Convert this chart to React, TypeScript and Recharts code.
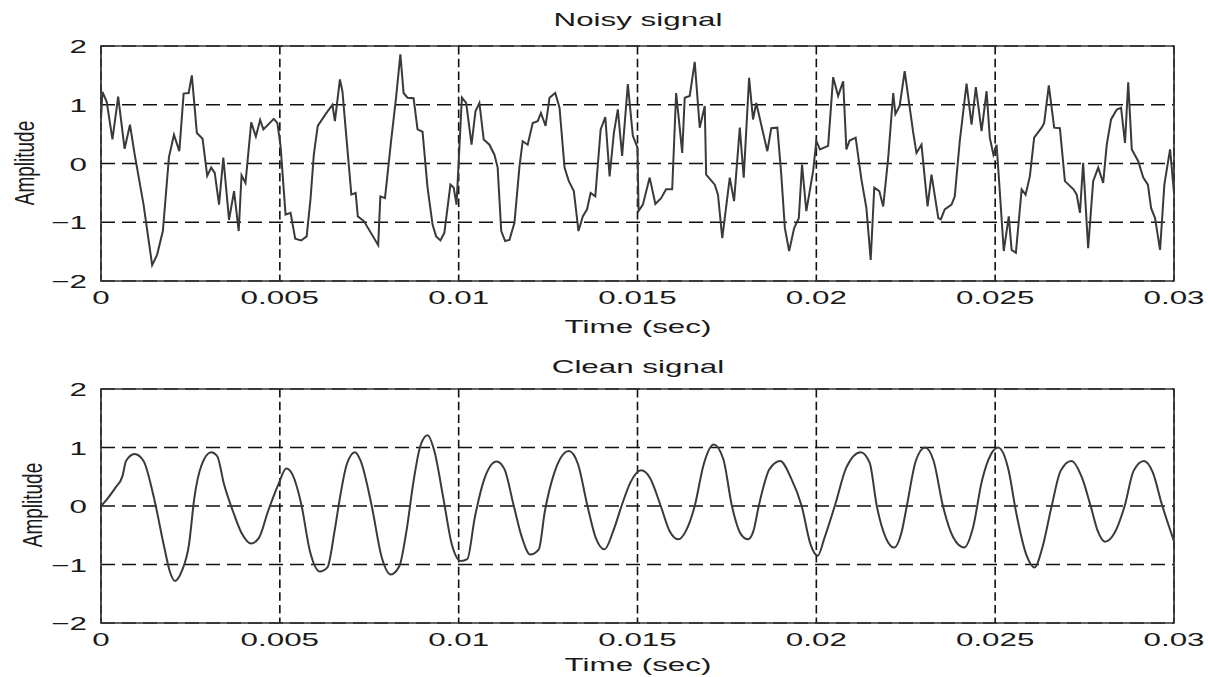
import { LineChart, Line, XAxis, YAxis, CartesianGrid, ReferenceArea } from 'recharts';

// time in ms, amplitude
const noisySignal: [number, number][] = [
  [0, 0.76], [0.04, 1.22], [0.16, 1.05], [0.32, 0.41], [0.48, 1.14], [0.66, 0.25], [0.81, 0.66], [0.94, 0.16],
  [1.19, -0.7], [1.43, -1.73], [1.57, -1.55], [1.73, -1.15], [1.9, 0.11], [2.04, 0.49], [2.19, 0.21], [2.31, 1.19],
  [2.45, 1.2], [2.54, 1.5], [2.68, 0.52], [2.84, 0.42], [2.97, -0.21], [3.08, -0.07], [3.18, -0.16], [3.3, -0.7],
  [3.42, 0.1], [3.58, -0.96], [3.72, -0.47], [3.85, -1.15], [3.93, -0.2], [4.04, -0.33], [4.2, 0.7], [4.33, 0.46],
  [4.45, 0.74], [4.54, 0.58], [4.83, 0.76], [4.93, 0.69], [5.02, 0.3], [5.16, -0.87], [5.3, -0.84], [5.43, -1.28],
  [5.6, -1.31], [5.75, -1.24], [5.86, -0.59], [5.95, 0.15], [6.06, 0.64], [6.28, 0.84], [6.47, 1.0], [6.54, 0.72],
  [6.68, 1.43], [6.75, 1.23], [6.87, 0.38], [7.0, -0.53], [7.12, -0.5], [7.18, -0.9], [7.35, -0.98], [7.75, -1.39],
  [7.81, -0.56], [7.94, -0.59], [8.11, 0.38], [8.25, 1.12], [8.37, 1.86], [8.46, 1.2], [8.57, 1.12], [8.74, 1.11],
  [8.85, 0.58], [8.99, 0.54], [9.13, -0.41], [9.27, -1.04], [9.37, -1.24], [9.49, -1.31], [9.6, -1.18], [9.77, -0.36],
  [9.86, -0.41], [9.94, -0.7], [10.02, 0.27], [10.09, 1.12], [10.21, 1.03], [10.36, 0.32], [10.47, 0.89], [10.58, 1.03],
  [10.7, 0.41], [10.86, 0.32], [11.0, 0.15], [11.09, -0.07], [11.19, -1.15], [11.3, -1.32], [11.42, -1.3], [11.56, -1.01],
  [11.7, -0.05], [11.79, 0.38], [11.93, 0.32], [12.07, 0.69], [12.21, 0.72], [12.3, 0.86], [12.43, 0.64], [12.54, 1.12],
  [12.7, 1.2], [12.82, 0.95], [12.96, -0.07], [13.08, -0.3], [13.22, -0.47], [13.35, -1.15], [13.47, -0.9], [13.59, -0.78],
  [13.69, -0.5], [13.82, -0.56], [13.97, 0.58], [14.1, 0.79], [14.22, -0.22], [14.34, 0.52], [14.45, 0.92], [14.57, 0.13],
  [14.73, 1.35], [14.87, 0.47], [15.0, 0.27], [15.03, -0.81], [15.15, -0.7], [15.34, -0.24], [15.5, -0.69], [15.66, -0.59],
  [15.8, -0.44], [15.97, -0.44], [16.08, 1.2], [16.18, 0.61], [16.25, 0.18], [16.32, 1.12], [16.46, 1.15], [16.6, 1.73],
  [16.74, 0.61], [16.88, 0.98], [16.92, -0.19], [17.16, -0.36], [17.25, -0.53], [17.37, -1.27], [17.58, -0.24], [17.7, -0.64],
  [17.86, 0.61], [17.97, -0.24], [18.12, 1.46], [18.23, 0.75], [18.32, 1.03], [18.63, 0.21], [18.74, 0.6], [18.91, 0.61],
  [19.02, -0.19], [19.12, -1.1], [19.24, -1.49], [19.38, -1.1], [19.51, -0.93], [19.6, -0.02], [19.72, -0.81], [19.91, -0.13],
  [20.0, 0.38], [20.1, 0.24], [20.33, 0.3], [20.47, 1.47], [20.61, 1.15], [20.75, 1.4], [20.84, 0.24], [20.93, 0.39],
  [21.1, 0.44], [21.26, -0.27], [21.4, -0.76], [21.52, -1.64], [21.62, -0.41], [21.76, -0.47], [21.87, -0.73], [22.01, 0.1],
  [22.15, 1.2], [22.21, 0.84], [22.33, 0.98], [22.47, 1.57], [22.71, 0.52], [22.8, 0.18], [22.94, 0.32], [23.11, -0.73],
  [23.22, -0.19], [23.41, -0.93], [23.48, -0.95], [23.59, -0.78], [23.78, -0.7], [23.87, -0.56], [24.01, 0.38], [24.2, 1.36],
  [24.34, 0.66], [24.46, 1.3], [24.62, 0.55], [24.76, 1.23], [24.85, 0.44], [24.95, 0.15], [25.04, 0.32], [25.11, -0.3],
  [25.24, -1.49], [25.38, -0.9], [25.46, -1.47], [25.58, -1.52], [25.74, -0.44], [25.85, -0.53], [25.97, -0.22], [26.09, 0.44],
  [26.3, 0.61], [26.37, 0.69], [26.5, 1.33], [26.65, 0.61], [26.81, 0.6], [26.95, -0.3], [27.19, -0.44], [27.28, -0.53],
  [27.37, -0.84], [27.46, 0.01], [27.6, -1.44], [27.74, -0.3], [27.88, -0.07], [28.02, -0.33], [28.12, 0.32], [28.24, 0.75],
  [28.4, 0.92], [28.52, 0.95], [28.63, 0.35], [28.72, 1.38], [28.82, 0.24], [29.0, 0.04], [29.14, -0.24], [29.27, -0.36],
  [29.36, -0.76], [29.47, -0.93], [29.61, -1.47], [29.73, -0.36], [29.89, 0.24], [30.0, -0.5],
];

const cleanSignal: [number, number][] = [
  [0, 0], [0.16, 0.11], [0.4, 0.31], [0.6, 0.51], [0.7, 0.77], [0.94, 0.89], [1.19, 0.77], [1.48, 0.14],
  [1.77, -0.71], [1.92, -1.11], [2.07, -1.28], [2.26, -1.11], [2.46, -0.66], [2.61, 0.14], [2.8, 0.68], [3.08, 0.92],
  [3.25, 0.85], [3.44, 0.37], [3.69, -0.09], [3.93, -0.46], [4.2, -0.64], [4.42, -0.54], [4.67, -0.09], [4.96, 0.37],
  [5.18, 0.64], [5.35, 0.54], [5.6, 0.03], [5.84, -0.77], [6.12, -1.12], [6.33, -1.05], [6.53, -0.43], [6.68, 0.14],
  [6.87, 0.71], [7.1, 0.92], [7.26, 0.77], [7.56, 0.03], [7.85, -0.88], [8.1, -1.17], [8.34, -1.03], [8.54, -0.43],
  [8.74, 0.43], [8.93, 1.03], [9.13, 1.21], [9.32, 0.94], [9.57, 0.14], [9.81, -0.66], [10.06, -0.94], [10.24, -0.91],
  [10.45, -0.2], [10.7, 0.43], [11.06, 0.76], [11.28, 0.63], [11.53, 0.03], [11.77, -0.54], [12.0, -0.83], [12.24, -0.74],
  [12.41, -0.09], [12.66, 0.54], [13.08, 0.94], [13.34, 0.71], [13.59, 0.03], [13.83, -0.54], [14.08, -0.74], [14.32, -0.43],
  [14.57, 0.03], [14.8, 0.4], [15.1, 0.61], [15.35, 0.48], [15.65, 0], [15.9, -0.43], [16.15, -0.57], [16.35, -0.43],
  [16.6, 0], [16.85, 0.71], [17.13, 1.05], [17.4, 0.8], [17.64, 0], [17.89, -0.48], [18.09, -0.57], [18.24, -0.43],
  [18.39, 0], [18.69, 0.63], [18.99, 0.77], [19.29, 0.48], [19.59, 0], [19.84, -0.66], [20.04, -0.85], [20.23, -0.54],
  [20.53, 0.03], [20.84, 0.66], [21.24, 0.92], [21.49, 0.74], [21.69, 0], [21.94, -0.54], [22.17, -0.71], [22.39, -0.43],
  [22.53, 0], [22.78, 0.77], [23.04, 1.0], [23.28, 0.77], [23.54, 0], [23.83, -0.54], [24.13, -0.71], [24.38, -0.37],
  [24.63, 0.43], [24.88, 0.88], [25.08, 1.0], [25.38, 0.6], [25.58, -0.09], [25.88, -0.85], [26.1, -1.05], [26.32, -0.71],
  [26.58, 0], [26.83, 0.6], [27.13, 0.77], [27.43, 0.48], [27.67, 0], [27.87, -0.43], [28.07, -0.61], [28.32, -0.48],
  [28.62, 0], [28.87, 0.6], [29.16, 0.77], [29.41, 0.57], [29.66, 0.03], [30.0, -0.6],
];

const xTicks = [0, 5, 10, 15, 20, 25, 30];
const xTickLabels = ['0', '0.005', '0.01', '0.015', '0.02', '0.025', '0.03'];
const yTicks = [-2, -1, 0, 1, 2];
const yTickLabels = ['\u22122', '\u22121', '0', '1', '2'];

const FONT = '"Liberation Sans", Arial, Helvetica, sans-serif';
const STRETCH = 1.65; // the figure is squashed wide, glyphs look stretched
const TEXT_COLOR = '#1a1a1a';

const toRows = (pts: [number, number][]) => pts.map(([t, v]) => ({ t, v }));

function XTick({ x, y, payload }: any) {
  const label = xTickLabels[xTicks.indexOf(payload.value)];
  return (
    <g transform={`translate(${x},${y})`}>
      <text y={23} textAnchor="middle" transform={`scale(${STRETCH},1)`} fontSize={19} fontFamily={FONT} fill={TEXT_COLOR}>
        {label}
      </text>
    </g>
  );
}

function YTick({ x, y, payload }: any) {
  const label = yTickLabels[yTicks.indexOf(payload.value)];
  return (
    <g transform={`translate(${x - 14},${y})`}>
      <text y={7} textAnchor="end" transform={`scale(${STRETCH},1)`} fontSize={19} fontFamily={FONT} fill={TEXT_COLOR}>
        {label}
      </text>
    </g>
  );
}

interface PanelProps {
  data: [number, number][];
  title: string;
  smooth?: boolean;
  height: number;
  margin: { top: number; right: number; bottom: number; left: number };
  titleY: number;
  xLabelY: number;
  yLabelX: number;
  yLabelY: number;
}

function SignalPanel({ data, title, smooth, height, margin, titleY, xLabelY, yLabelX, yLabelY }: PanelProps) {
  return (
    <LineChart width={1208} height={height} data={toRows(data)} margin={margin}>
      <CartesianGrid horizontal vertical={false} stroke="#111" strokeWidth={1.6} strokeDasharray="14 7" />
      <CartesianGrid horizontal={false} vertical stroke="#111" strokeWidth={1.6} strokeDasharray="8.5 4.2" />
      <XAxis
        type="number"
        dataKey="t"
        domain={[0, 30]}
        ticks={xTicks}
        interval={0}
        tick={(p: any) => <XTick {...p} />}
        tickLine={false}
        axisLine={false}
        tickSize={0}
        tickMargin={0}
        height={30}
        allowDataOverflow
      />
      <YAxis
        type="number"
        domain={[-2, 2]}
        ticks={yTicks}
        interval={0}
        tick={(p: any) => <YTick {...p} />}
        tickLine={false}
        axisLine={false}
        tickSize={0}
        tickMargin={0}
        width={60}
        allowDataOverflow
      />
      <Line
        type={smooth ? 'monotone' : 'linear'}
        dataKey="v"
        stroke="#3a3a3a"
        strokeWidth={2}
        dot={false}
        activeDot={false}
        isAnimationActive={false}
      />
      <ReferenceArea x1={0} x2={30} y1={-2} y2={2} fill="none" stroke="#333" strokeWidth={1.7} ifOverflow="visible" />
      <text x={638} y={titleY} textAnchor="middle" transform={`translate(${638 * (1 - STRETCH)},0) scale(${STRETCH},1)`} fontSize={19} fontFamily={FONT} fill={TEXT_COLOR}>
        {title}
      </text>
      <text x={638} y={xLabelY} textAnchor="middle" transform={`translate(${638 * (1 - STRETCH)},0) scale(${STRETCH},1)`} fontSize={19} fontFamily={FONT} fill={TEXT_COLOR}>
        Time (sec)
      </text>
      <text
        transform={`translate(${yLabelX},${yLabelY}) scale(1.45,1) rotate(-90)`}
        textAnchor="middle"
        dominantBaseline="central"
        fontSize={19}
        fontFamily={FONT}
        fill={TEXT_COLOR}
      >
        Amplitude
      </text>
    </LineChart>
  );
}

export default function App() {
  return (
    <div style={{ position: 'absolute', left: 0, top: 0, width: 1208, height: 677, background: '#fff', overflow: 'hidden' }}>
      <div style={{ position: 'absolute', left: 0, top: 0 }}>
        <SignalPanel
          data={noisySignal}
          title="Noisy signal"
          height={340}
          margin={{ top: 46, right: 34, bottom: 29, left: 41 }}
          titleY={26}
          xLabelY={333}
          yLabelX={25}
          yLabelY={163}
        />
      </div>
      <div style={{ position: 'absolute', left: 0, top: 340 }}>
        <SignalPanel
          data={cleanSignal}
          title="Clean signal"
          smooth
          height={337}
          margin={{ top: 49, right: 34, bottom: 24, left: 41 }}
          titleY={33.5}
          xLabelY={331}
          yLabelX={33}
          yLabelY={165}
        />
      </div>
    </div>
  );
}
